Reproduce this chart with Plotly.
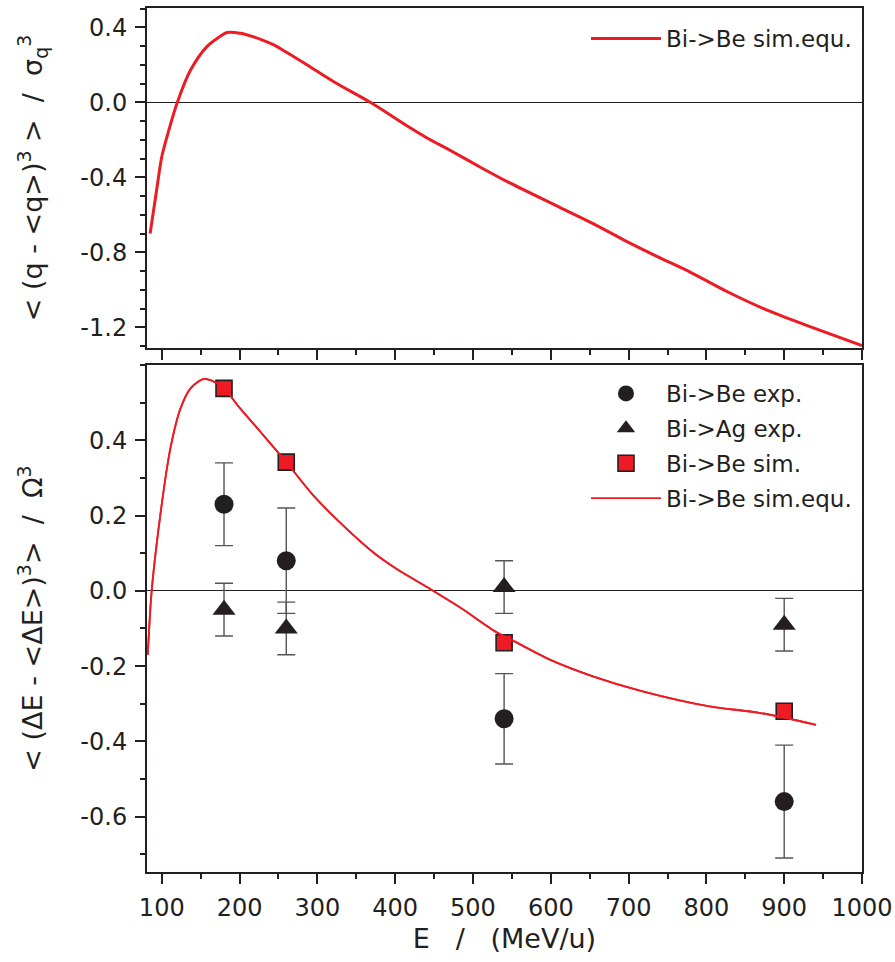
import plotly.graph_objects as go

# ---------------- data ----------------
# top panel: <(q-<q>)^3>/sigma_q^3, Bi->Be sim.equ.
top_E = [85, 94, 100, 109, 120, 137, 158, 172, 184, 201, 210, 227, 244, 257, 287, 321, 368,
         415, 441, 471, 509, 544, 612, 655, 698, 737, 779, 827, 878, 934, 1000]
top_skew = [-0.70, -0.45, -0.29, -0.15, 0.0, 0.172, 0.297, 0.343, 0.372, 0.368, 0.359, 0.336,
            0.306, 0.275, 0.199, 0.11, 0.0, -0.125, -0.19, -0.257, -0.345, -0.423, -0.561,
            -0.648, -0.743, -0.823, -0.905, -1.01, -1.108, -1.197, -1.297]

# bottom panel: <(dE-<dE>)^3>/Omega^3
equ_E = [82, 87, 98, 111, 124, 137, 154, 167, 180, 201, 227, 260, 295, 338, 372, 402, 445,
         484, 531, 552, 598, 654, 718, 804, 868, 941]
equ_skew = [-0.17, 0.0, 0.2, 0.378, 0.484, 0.538, 0.563, 0.556, 0.538, 0.484, 0.422, 0.342,
            0.253, 0.164, 0.102, 0.058, 0.005, -0.045, -0.111, -0.133, -0.182, -0.227, -0.267,
            -0.307, -0.324, -0.356]

exp_E = [180, 260, 540, 900]
be_exp = [0.23, 0.08, -0.34, -0.56]
be_exp_err = [0.11, 0.14, 0.12, 0.15]
ag_exp = [-0.05, -0.10, 0.01, -0.09]
ag_exp_err = [0.07, 0.07, 0.07, 0.07]
be_sim = [0.538, 0.342, -0.138, -0.32]

x_tickvals = [100, 200, 300, 400, 500, 600, 700, 800, 900, 1000]
x_ticktext = ["100", "200", "300", "400", "500", "600", "700", "800", "900", "1000"]
top_tickvals = [-1.2, -0.8, -0.4, 0.0, 0.4]
top_ticktext = ["-1.2", "-0.8", "-0.4", "0.0", "0.4"]
bot_tickvals = [-0.6, -0.4, -0.2, 0.0, 0.2, 0.4]
bot_ticktext = ["-0.6", "-0.4", "-0.2", "0.0", "0.2", "0.4"]

# ---------------- style ----------------
INK = "#231f20"
RED = "#ed1c24"
FONT = "DejaVu Sans"
FS = 23      # legend
FT = 24      # tick labels
FA = 27      # axis titles

fig = go.Figure()

fig.add_trace(go.Scatter(
    x=top_E, y=top_skew, mode="lines", name="Bi->Be sim.equ.",
    line=dict(color=RED, width=3, shape="spline", smoothing=0.8),
    xaxis="x2", yaxis="y2", legend="legend2", showlegend=True))

fig.add_trace(go.Scatter(
    x=exp_E, y=be_exp, mode="markers", name="Bi->Be exp.",
    marker=dict(symbol="circle", size=19, color=INK),
    error_y=dict(type="data", array=be_exp_err, color="#555555", thickness=1.4, width=9),
    legendgroup="a"))
fig.add_trace(go.Scatter(
    x=exp_E, y=ag_exp, mode="markers", name="Bi->Ag exp.",
    marker=dict(symbol="triangle-up", size=20, color=INK),
    error_y=dict(type="data", array=ag_exp_err, color="#555555", thickness=1.4, width=9),
    legendgroup="b"))
fig.add_trace(go.Scatter(
    x=equ_E, y=equ_skew, mode="lines", name="Bi->Be sim.equ.",
    line=dict(color=RED, width=1.8, shape="spline", smoothing=0.8),
    legendgroup="d", showlegend=False))
fig.add_trace(go.Scatter(
    x=exp_E, y=be_sim, mode="markers", name="Bi->Be sim.",
    marker=dict(symbol="square", size=16, color=RED, line=dict(color=INK, width=1.6)),
    legendgroup="c"))
# legend entry for the line (kept last so it is listed last)
fig.add_trace(go.Scatter(
    x=equ_E, y=equ_skew, mode="lines", name="Bi->Be sim.equ.",
    line=dict(color=RED, width=1.8, shape="spline", smoothing=0.8),
    legendgroup="d", showlegend=True, hoverinfo="skip"))

axis_common = dict(
    showline=True, linecolor=INK, linewidth=2, mirror=True,
    ticks="outside", ticklen=10, tickwidth=1.6, tickcolor=INK,
    showgrid=False, ticklabelstandoff=3,
    tickfont=dict(family=FONT, size=FT, color=INK),
)
minor_x = dict(tickmode="linear", tick0=0, dtick=50, ticks="outside", ticklen=5,
               tickwidth=1.6, tickcolor=INK)
minor_y = dict(tickmode="linear", tick0=0, dtick=0.1, ticks="outside", ticklen=5,
               tickwidth=1.6, tickcolor=INK)

fig.update_layout(
    width=895, height=962,
    margin=dict(l=147, r=33, t=8, b=90, autoexpand=False),
    paper_bgcolor="white", plot_bgcolor="white",
    font=dict(family=FONT, size=FS, color=INK),
    xaxis=dict(
        **axis_common, range=[81, 1000], domain=[0, 1], anchor="y",
        tickmode="array", tickvals=x_tickvals, ticktext=x_ticktext, minor=minor_x,
        title=dict(text="E   /   (MeV/u)", font=dict(family=FONT, size=FA, color=INK), standoff=8),
        zeroline=False,
    ),
    yaxis=dict(
        **axis_common, range=[-0.747, 0.6], domain=[0, 0.5868], anchor="x",
        tickmode="array", tickvals=bot_tickvals, ticktext=bot_ticktext, minor=minor_y,
        zeroline=True, zerolinecolor=INK, zerolinewidth=1.2,
        title=dict(text="< (ΔE - <ΔE>)<sup>3</sup>>  /  Ω<sup>3</sup>",
                   font=dict(family=FONT, size=FA, color=INK), standoff=30),
    ),
    xaxis2=dict(
        **axis_common, range=[81, 1000], domain=[0, 1], anchor="y2", matches="x",
        tickmode="array", tickvals=x_tickvals, showticklabels=False, minor=minor_x,
        zeroline=False,
    ),
    yaxis2=dict(
        **axis_common, range=[-1.31, 0.503], domain=[0.6065, 1], anchor="x2",
        tickmode="array", tickvals=top_tickvals, ticktext=top_ticktext, minor=minor_y,
        zeroline=True, zerolinecolor=INK, zerolinewidth=1.2,
        title=dict(text="< (q - <q>)<sup>3</sup> >  /  σ<sub>q</sub><sup>3</sup>",
                   font=dict(family=FONT, size=FA, color=INK), standoff=30),
    ),
    legend=dict(
        x=0.993, xanchor="right", y=0.5787, yanchor="top", yref="paper",
        bgcolor="rgba(0,0,0,0)", borderwidth=0, traceorder="grouped", tracegroupgap=2,
        itemwidth=70, font=dict(family=FONT, size=FS, color=INK),
    ),
    legend2=dict(
        x=0.993, xanchor="right", y=0.9896, yanchor="top", yref="paper",
        bgcolor="rgba(0,0,0,0)", borderwidth=0,
        itemwidth=70, font=dict(family=FONT, size=FS, color=INK),
    ),
)

fig.write_html("out.html")
